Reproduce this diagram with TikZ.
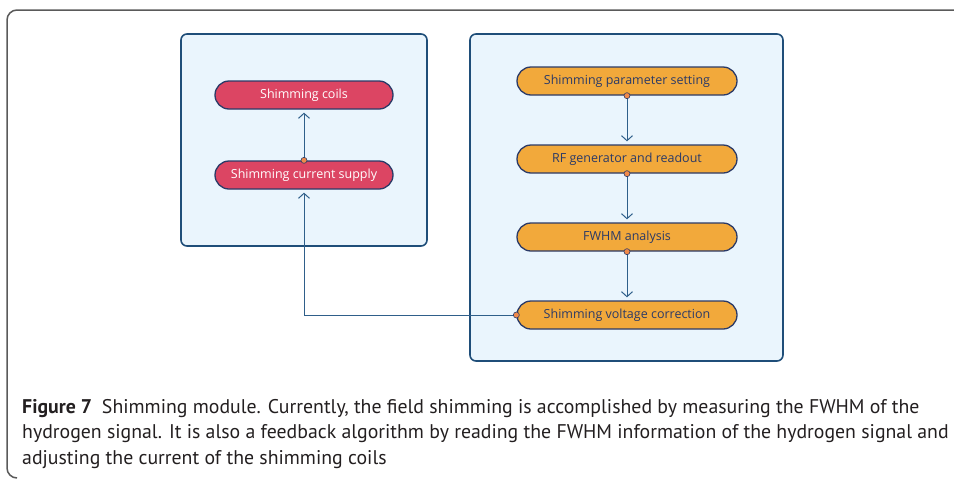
\documentclass[tikz,border=0pt]{standalone}
\usepackage{fontspec}
\setmainfont{PT Sans}
\newfontfamily\diagfont{Open Sans}
\usetikzlibrary{arrows.meta,shapes.misc}
\definecolor{panelfill}{HTML}{EAF5FD}
\definecolor{panelline}{HTML}{1F4E79}
\definecolor{redpill}{HTML}{DC4563}
\definecolor{orangepill}{HTML}{F2A93B}
\definecolor{pillline}{HTML}{2B3A67}
\definecolor{linkline}{HTML}{2F5F8A}
\definecolor{dotfill}{HTML}{F08A4B}
\definecolor{captext}{HTML}{231F20}
\definecolor{framegray}{HTML}{5A5A5A}
\tikzset{
  panel/.style={draw=panelline, fill=panelfill, line width=1.6pt, rounded corners=6pt},
  pill/.style={rounded rectangle, minimum width=178pt, minimum height=28pt,
    inner sep=0pt, line width=1.3pt, draw=pillline, font=\diagfont\fontsize{12.5}{14}\selectfont},
  redbox/.style={pill, fill=redpill, text=white},
  orangebox/.style={pill, fill=orangepill, text=pillline, minimum width=220pt},
  link/.style={draw=linkline, line width=1pt, -{Straight Barb[length=5pt,width=11pt,line width=1pt]}, shorten >=3pt},
  portdot/.style={circle, draw=pillline, fill=dotfill, line width=0.6pt, minimum size=6pt, inner sep=0pt},
  capline/.style={anchor=base west, inner sep=0pt, text=captext, font=\fontsize{19.8}{22}\selectfont}
}
\begin{document}
\begin{tikzpicture}[x=1pt,y=-1pt]
\useasboundingbox (0,0) rectangle (954,480);
% outer frame of the figure
\draw[framegray, line width=1.5pt, rounded corners=10pt] (954,10) -- (7,10) -- (7,478) -- (17,478);
\fill[white] (8,478.5) rectangle (954,481);
% panels
\draw[panel] (181,34) rectangle (427,246);
\draw[panel] (470,34) rectangle (783,361);
% left panel nodes
\node[redbox] (coils) at (304,95) {Shimming coils};
\node[redbox] (supply) at (304,175) {Shimming current supply};
% right panel nodes
\node[orangebox] (param) at (627,81) {Shimming parameter setting};
\node[orangebox] (rf) at (627,159) {RF generator and readout};
\node[orangebox] (fwhm) at (627,237) {FWHM analysis};
\node[orangebox] (volt) at (627,315) {Shimming voltage correction};
% connectors
\draw[link] (supply.north) -- (coils.south);
\draw[link] (param.south) -- (rf.north);
\draw[link] (rf.south) -- (fwhm.north);
\draw[link] (fwhm.south) -- (volt.north);
\coordinate (bend) at (supply.south |- volt.west);
\draw[link] (volt.west) -- (bend) -- (supply.south);
% connection ports
\node[portdot] at (supply.north) {};
\node[portdot] at (param.south) {};
\node[portdot] at (rf.south) {};
\node[portdot] at (fwhm.south) {};
\node[portdot] at (volt.west) {};
% caption
\node[capline] (cap1) at (22,413) {\textbf{Figure 7}\enspace Shimming module. Currently, the field shimming is accomplished by measuring the FWHM of the};
\node[capline] (cap2) at (22,438.5) {hydrogen signal. It is also a feedback algorithm by reading the FWHM information of the hydrogen signal and};
\node[capline] (cap3) at (22,464) {adjusting the current of the shimming coils};
\end{tikzpicture}
\end{document}
